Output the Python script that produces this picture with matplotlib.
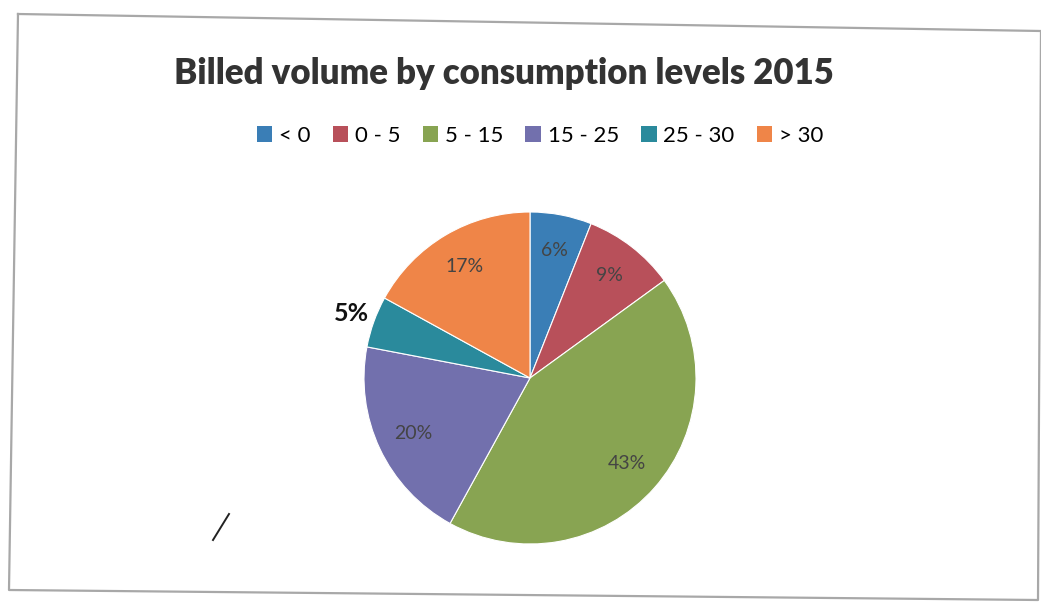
import matplotlib
matplotlib.use("Agg")
import matplotlib.pyplot as plt
from matplotlib.lines import Line2D
from matplotlib.patches import Patch
import numpy as np

title = "Billed volume by consumption levels 2015"
categories = ["< 0", "0 - 5", "5 - 15", "15 - 25", "25 - 30", "> 30"]
values = [6, 9, 43, 20, 5, 17]
colors = ["#3a7eb6", "#b8505a", "#88a452", "#7270ad", "#2a8a9c", "#ef8548"]

W, H = 1041, 602
fig = plt.figure(figsize=(W / 100, H / 100), dpi=100)
fig.patch.set_facecolor("white")

def px(x, y):
    return x / W, 1 - y / H

# chart frame (scanned, slightly tilted)
frame = [(18, 14), (1041, 31), (1038, 600), (9, 590), (18, 14)]
xs, ys = zip(*[px(*p) for p in frame])
fig.add_artist(Line2D(xs, ys, color="#a8a8a8", lw=1.6, transform=fig.transFigure))
# stray pen mark
sx, sy = zip(*[px(213, 540), px(229, 514)])
fig.add_artist(Line2D(sx, sy, color="#222222", lw=1.4, transform=fig.transFigure))

cx, cy, r = 530, 378, 166
ax = fig.add_axes([(cx - r) / W, (H - cy - r) / H, 2 * r / W, 2 * r / H])
wedges, texts, autotexts = ax.pie(
    values, colors=colors, startangle=90, counterclock=False,
    autopct="%d%%", pctdistance=0.78, radius=1.0,
    wedgeprops=dict(linewidth=0.8, edgecolor="white"),
    textprops=dict(fontsize=14, color="#444444", family=["Lato", "DejaVu Sans"]),
)
for t, v in zip(autotexts, values):
    t.set_text(f"{v}%")
# the small 25-30 label sits outside the pie
w = wedges[4]
ang = np.deg2rad((w.theta1 + w.theta2) / 2)
autotexts[4].set_position((1.14 * np.cos(ang), 1.14 * np.sin(ang)))
autotexts[4].set_color("#111111")
autotexts[4].set_fontweight("bold")
autotexts[4].set_fontsize(18)
ax.set_xlim(-1, 1)
ax.set_ylim(-1, 1)
ax.set_aspect("equal")
ax.axis("off")

fig.text(504 / W, 1 - 73 / H, title, ha="center", va="center",
         fontsize=25, fontweight="heavy", color="#333333", family=["Lato", "DejaVu Sans"])

handles = [Patch(facecolor=c, edgecolor="none") for c in colors]
fig.legend(handles, categories, loc="center", bbox_to_anchor=(540 / W, 1 - 136 / H),
           ncol=6, frameon=False, handlelength=0.7, handleheight=0.75,
           handletextpad=0.3, columnspacing=1.0,
           prop=dict(family=["Lato", "DejaVu Sans"], size=16))

fig.savefig("out.png", dpi=100, facecolor="white")
